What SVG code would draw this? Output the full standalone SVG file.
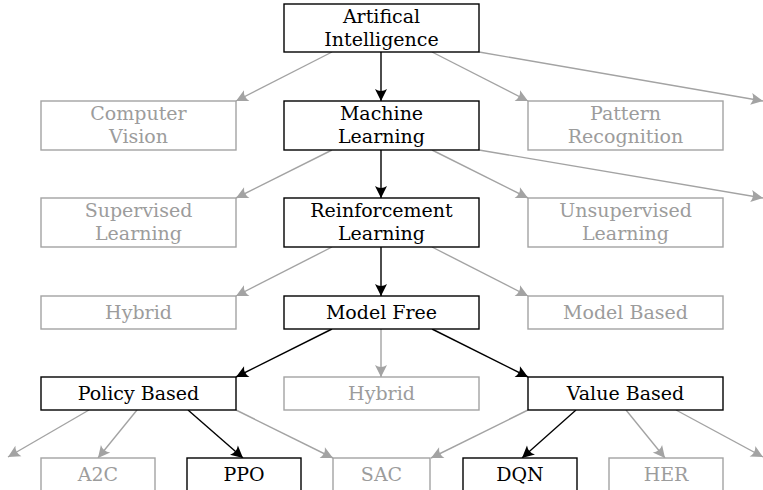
<svg xmlns="http://www.w3.org/2000/svg" width="763" height="490" viewBox="0 0 763 490">
<style>
text{font-family:"DejaVu Serif","Liberation Serif",serif;font-size:19px;text-anchor:middle}
.b rect{fill:#fff;stroke:#000;stroke-width:1.4}
.b text{fill:#000}
.g rect{fill:#fff;stroke:#a3a3a3;stroke-width:1.4}
.g text{fill:#9c9c9c}
.cb{stroke:#000;stroke-width:1.4;fill:none;marker-end:url(#ab)}
.cg{stroke:#a3a3a3;stroke-width:1.4;fill:none;marker-end:url(#ag)}
</style>
<defs>
<marker id="ab" markerUnits="userSpaceOnUse" markerWidth="15" markerHeight="15" viewBox="-1 -7.5 15 15" refX="12" refY="0" orient="auto"><path d="M12,0 L0,-6 Q3.8,0 0,6 Z" fill="#000"/></marker>
<marker id="ag" markerUnits="userSpaceOnUse" markerWidth="15" markerHeight="15" viewBox="-1 -7.5 15 15" refX="12" refY="0" orient="auto"><path d="M12,0 L0,-6 Q3.8,0 0,6 Z" fill="#a3a3a3"/></marker>
</defs>
<g id="connectors">
<path class="cg" d="M332,52 L236,101"/>
<path class="cg" d="M432,52 L528,101"/>
<path class="cg" d="M479,52 L763,101"/>
<path class="cg" d="M332,150 L236,198"/>
<path class="cg" d="M432,150 L528,198"/>
<path class="cg" d="M479,150 L763,198"/>
<path class="cg" d="M332,247 L236,296"/>
<path class="cg" d="M432,247 L528,296"/>
<path class="cg" d="M381,329 L381,377"/>
<path class="cg" d="M89,410 L8,457"/>
<path class="cg" d="M137,410 L98,458"/>
<path class="cg" d="M236,410 L333,458"/>
<path class="cg" d="M528,410 L431,458"/>
<path class="cg" d="M626,410 L665,458"/>
<path class="cg" d="M676,410 L763,457"/>
<path class="cb" d="M381,52 L381,101"/>
<path class="cb" d="M381,150 L381,198"/>
<path class="cb" d="M381,247 L381,296"/>
<path class="cb" d="M332,329 L236,377"/>
<path class="cb" d="M432,329 L528,377"/>
<path class="cb" d="M188,410 L243,458"/>
<path class="cb" d="M576,410 L522,458"/>
</g>
<g id="ai" class="b"><rect x="284" y="4" width="195" height="48"/><text x="381.5" y="23">Artifical</text><text x="381.5" y="46">Intelligence</text></g>
<g id="cv" class="g"><rect x="41" y="101" width="195" height="49"/><text x="138.5" y="120">Computer</text><text x="138.5" y="143">Vision</text></g>
<g id="ml" class="b"><rect x="284" y="101" width="195" height="49"/><text x="381.5" y="120">Machine</text><text x="381.5" y="143">Learning</text></g>
<g id="pr" class="g"><rect x="528" y="101" width="195" height="49"/><text x="625.5" y="120">Pattern</text><text x="625.5" y="143">Recognition</text></g>
<g id="sl" class="g"><rect x="41" y="198" width="195" height="49"/><text x="138.5" y="217">Supervised</text><text x="138.5" y="240">Learning</text></g>
<g id="rl" class="b"><rect x="284" y="198" width="195" height="49"/><text x="381.5" y="217">Reinforcement</text><text x="381.5" y="240">Learning</text></g>
<g id="ul" class="g"><rect x="528" y="198" width="195" height="49"/><text x="625.5" y="217">Unsupervised</text><text x="625.5" y="240">Learning</text></g>
<g id="hy1" class="g"><rect x="41" y="296" width="195" height="33"/><text x="138.5" y="319">Hybrid</text></g>
<g id="mf" class="b"><rect x="284" y="296" width="195" height="33"/><text x="381.5" y="319">Model Free</text></g>
<g id="mb" class="g"><rect x="528" y="296" width="195" height="33"/><text x="625.5" y="319">Model Based</text></g>
<g id="pb" class="b"><rect x="41" y="377" width="195" height="33"/><text x="138.5" y="400">Policy Based</text></g>
<g id="hy2" class="g"><rect x="284" y="377" width="195" height="33"/><text x="381.5" y="400">Hybrid</text></g>
<g id="vb" class="b"><rect x="528" y="377" width="195" height="33"/><text x="625.5" y="400">Value Based</text></g>
<g id="a2c" class="g"><rect x="41" y="458" width="114" height="40"/><text x="98" y="481">A2C</text></g>
<g id="ppo" class="b"><rect x="187" y="458" width="114" height="40"/><text x="244" y="481">PPO</text></g>
<g id="sac" class="g"><rect x="333" y="458" width="97" height="40"/><text x="381.5" y="481">SAC</text></g>
<g id="dqn" class="b"><rect x="463" y="458" width="114" height="40"/><text x="520" y="481">DQN</text></g>
<g id="her" class="g"><rect x="609" y="458" width="114" height="40"/><text x="666" y="481">HER</text></g>
</svg>
